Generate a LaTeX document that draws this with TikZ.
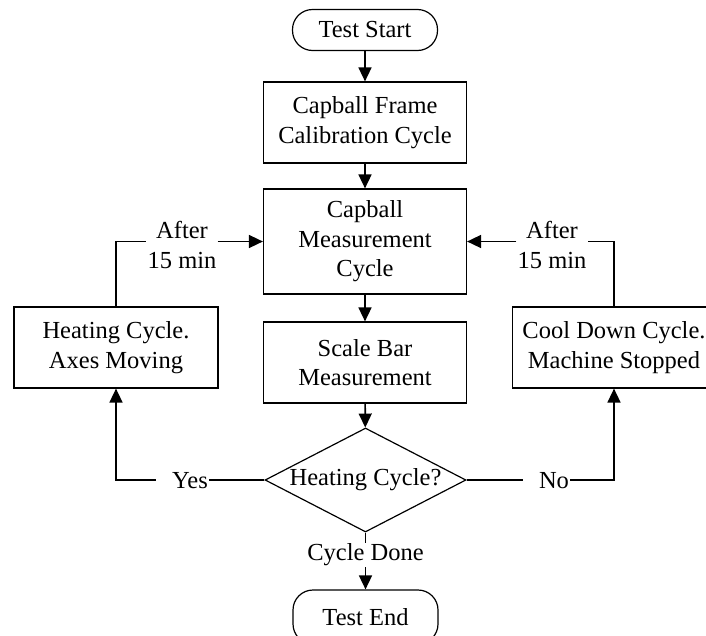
\documentclass[tikz,border=0pt]{standalone}
\usepackage{fontspec}
\setmainfont{Liberation Serif}
\usetikzlibrary{shapes.geometric,arrows.meta}
\tikzset{
  base/.style={font=\fontsize{24.5}{29.5}\selectfont, align=center, inner sep=0pt},
  term/.style={base, draw, line width=1.2pt, rounded corners=20pt, minimum width=145pt, minimum height=41pt},
  proc/.style={base, draw, line width=1.2pt, minimum width=203pt, minimum height=81pt},
  dec/.style={base, draw, line width=1.2pt, shape=diamond, aspect=1.93, minimum width=201pt, minimum height=104pt},
  lbl/.style={base, inner sep=1pt},
  conn/.style={line width=1.6pt},
  arr/.style={conn, -{Triangle[length=14pt,width=13pt]}}
}
\begin{document}
\begin{tikzpicture}[x=1pt,y=-1pt]
\useasboundingbox (0,0) rectangle (706,635);
\node[term] (start) at (365,30) {Test Start};
\node[proc] (cal) at (365,122.5) {Capball Frame\\Calibration Cycle};
\node[proc, minimum height=105pt] (meas) at (365,241.5) {Capball\\Measurement\\Cycle};
\node[proc] (bar) at (365,362.5) {Scale Bar\\Measurement};
\node[proc, minimum width=204pt] (heat) at (116,347.5) {Heating Cycle.\\Axes Moving};
\node[proc] (cool) at (614,347.5) {Cool Down Cycle.\\Machine Stopped};
\node[dec] (dia) at (365.5,480) {Heating Cycle?};
\node[term, minimum height=54pt] (end) at (365.5,617) {Test End};
\node[lbl] (yes) at (190,481) {Yes};
\node[lbl] (no) at (554,481) {No};
\node[lbl] (aftL) at (182,245) {After\\15 min};
\node[lbl] (aftR) at (552,245) {After\\15 min};
\node[lbl] (done) at (365.5,555) {Cycle Done};

\draw[arr] (start) -- (cal);
\draw[arr] (cal) -- (meas);
\draw[arr] (meas) -- (bar);
\draw[arr] (bar) -- (dia);
\draw[conn] (dia.west) -- (yes.east |- dia.west);
\draw[arr] ([xshift=-15pt]yes.west |- dia.west) -| (heat.south);
\draw[conn] (dia.east) -- ([xshift=-15pt]no.west |- dia.east);
\draw[arr] (no.east |- dia.east) -| (cool.south);
\draw[conn] (heat.north) |- (aftL.west |- meas.west);
\draw[arr] (aftL.east |- meas.west) -- (meas.west);
\draw[conn] (cool.north) |- (aftR.east |- meas.east);
\draw[arr] (aftR.west |- meas.east) -- (meas.east);
\draw[conn] (dia.south) -- (done.north);
\draw[arr] (done.south) -- (end.north);
\end{tikzpicture}
\end{document}
